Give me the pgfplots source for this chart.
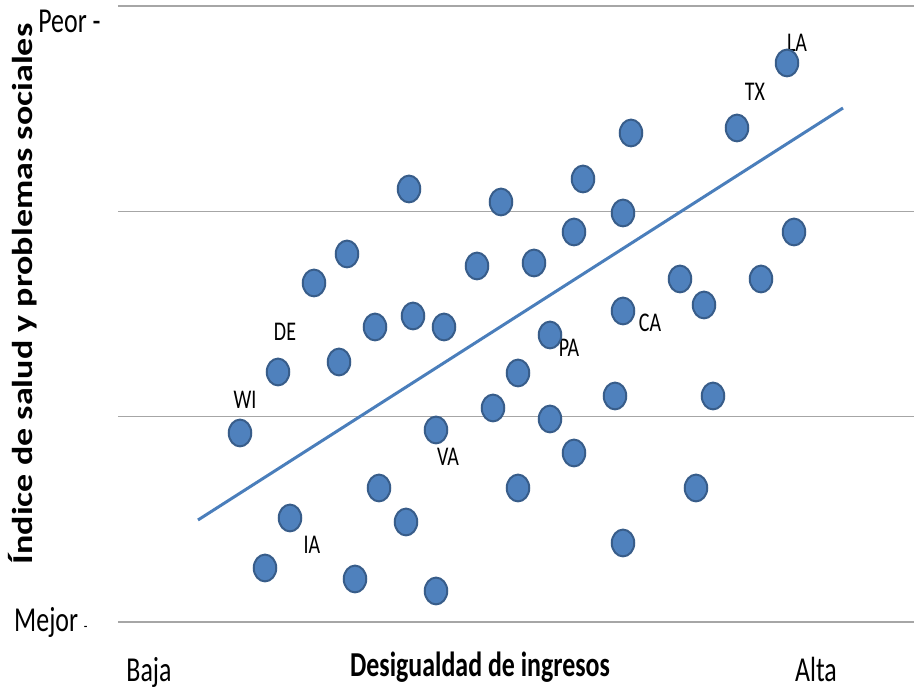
\documentclass[border=0pt]{standalone}
\usepackage{fontspec}
\setmainfont{Carlito}
\newfontfamily\narrow{Carlito}[FakeStretch=0.74]
\usepackage{pgfplots}
\pgfplotsset{compat=1.18}

\definecolor{ptfill}{HTML}{4F81BD}
\definecolor{ptedge}{HTML}{385D8A}
\definecolor{trend}{HTML}{4A7EBB}
\definecolor{gridc}{HTML}{A6A6A6}

% positions kept in reference pixels (x to the right, y upwards from the bottom)
\pgfplotstableread{
x   y
240 256
278 317
314 406
347 435
339 327
375 362
413 373
444 362
409 500
477 423
501 487
534 426
574 457
583 510
623 476
631 556
737 561
787 626
794 457
761 410
680 410
704 384
623 378
550 354
518 316
493 281
550 270
615 293
713 293
436 259
574 236
518 201
379 201
406 167
290 171
265 121
355 110
436 98
623 146
696 201
}\estados

\begin{document}
\begin{tikzpicture}
\begin{axis}[
    scale only axis,
    width=398pt, height=308pt,
    xmin=118, xmax=914,
    ymin=67, ymax=683,
    axis line style={draw=none},
    xtick=\empty,
    ytick={67,272.33,477.67,683},
    yticklabels={},
    major tick length=0pt,
    ymajorgrids,
    grid style={gridc, line width=0.8pt},
    clip=false,
    font=\narrow\fontsize{17.5}{20}\selectfont,
]
\addplot[trend, line width=1.5pt] coordinates {(198,169) (843,581)};
\addplot[only marks, mark=*, mark size=6.7pt,
    mark options={xscale=0.84, fill=ptfill, draw=ptedge, line width=1pt}]
    table[x=x, y=y] {\estados};

\begin{scope}[every node/.style={font=\narrow\fontsize{13.5}{15}\selectfont, inner sep=0pt}]
\node at (axis cs:245,289) {WI};
\node at (axis cs:285,357) {DE};
\node at (axis cs:312,144) {IA};
\node at (axis cs:448,232) {VA};
\node at (axis cs:569,341) {PA};
\node at (axis cs:650,366) {CA};
\node at (axis cs:755,597) {TX};
\node at (axis cs:797,646) {LA};
\end{scope}

\node[anchor=base east, inner sep=0pt] at (axis cs:101,656) {Peor -};
\node[anchor=base east, inner sep=0pt] at (axis cs:88,57) {Mejor\,{\fontsize{8}{8}\selectfont -}};
\node[anchor=base, inner sep=0pt] at (axis cs:149,7) {Baja};
\node[anchor=base, inner sep=0pt] at (axis cs:480,12) {\bfseries Desigualdad de ingresos};
\node[anchor=base, inner sep=0pt] at (axis cs:816,7) {Alta};
\node[rotate=90, anchor=base, inner sep=0pt, font=\rmfamily\bfseries\fontsize{18}{21}\selectfont]
    at (axis cs:33,395) {\scalebox{1}[0.8]{Índice de salud y problemas sociales}};

\coordinate (bl) at (axis cs:0,0);
\coordinate (tr) at (axis cs:914,689);
\end{axis}
\pgfresetboundingbox
\path[use as bounding box] (bl) rectangle (tr);
\end{tikzpicture}
\end{document}
